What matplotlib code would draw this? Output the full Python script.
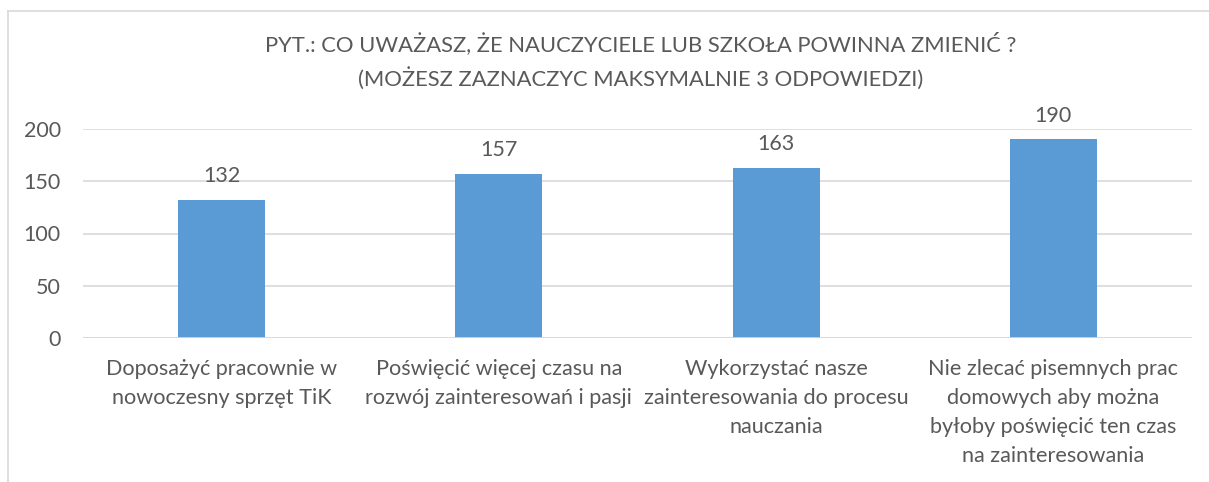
import matplotlib
matplotlib.use("Agg")
import matplotlib.pyplot as plt
from matplotlib.lines import Line2D

categories = [
    "Doposażyć pracownie w\nnowoczesny sprzęt TiK",
    "Poświęcić więcej czasu na\nrozwój zainteresowań i pasji",
    "Wykorzystać nasze\nzainteresowania do procesu\nnauczania",
    "Nie zlecać pisemnych prac\ndomowych aby można\nbyłoby poświęcić ten czas\nna zainteresowania",
]
values = [132, 157, 163, 190]
yticks = [0, 50, 100, 150, 200]
title = "PYT.: CO UWAŻASZ, ŻE NAUCZYCIELE LUB SZKOŁA POWINNA ZMIENIĆ ?\n(MOŻESZ ZAZNACZYC MAKSYMALNIE 3 ODPOWIEDZI)"

plt.rcParams['font.family'] = ['Lato', 'DejaVu Sans']
txt = "#595959"
W, H = 1209, 482
fig = plt.figure(figsize=(W / 100, H / 100), dpi=100)
ax = fig.add_axes([83 / W, 1 - 338 / H, (1192 - 83) / W, (338 - 129) / H])

x = list(range(len(values)))
ax.bar(x, values, width=0.314, color="#5B9BD5", zorder=3)
ax.set_xlim(-0.5, len(values) - 0.5)
ax.set_ylim(0, 200)
ax.set_yticks(yticks)
ax.set_yticklabels([str(v) for v in yticks], fontsize=15.5, color=txt)
ax.set_xticks(x)
ax.set_xticklabels(categories, fontsize=15.6, color=txt, linespacing=1.57)
ax.tick_params(axis="both", length=0)
ax.tick_params(axis="y", pad=16)
ax.tick_params(axis="x", pad=15)
ax.grid(axis="y", color="#D9D9D9", linewidth=1.2, zorder=0)
for s in ax.spines.values():
    s.set_visible(False)
ax.axhline(0, color="#D9D9D9", linewidth=1.2, zorder=4)

for xi, v in zip(x, values):
    ax.annotate(str(v), (xi, v), xytext=(0, 10), textcoords="offset points",
                ha="center", va="bottom", fontsize=15.5, color=txt)

fig.text(641 / W, 1 - 61.5 / H, title, ha="center", va="center", fontsize=15.8,
         color=txt, linespacing=1.62)

# chart area border (left and top visible)
fig.add_artist(Line2D([7.5 / W, 7.5 / W], [0, 1 - 10.5 / H], transform=fig.transFigure,
                      color="#D9D9D9", linewidth=1.2))
fig.add_artist(Line2D([7.5 / W, 1], [1 - 10.5 / H, 1 - 10.5 / H], transform=fig.transFigure,
                      color="#D9D9D9", linewidth=1.2))

fig.savefig("out.png", dpi=100)
